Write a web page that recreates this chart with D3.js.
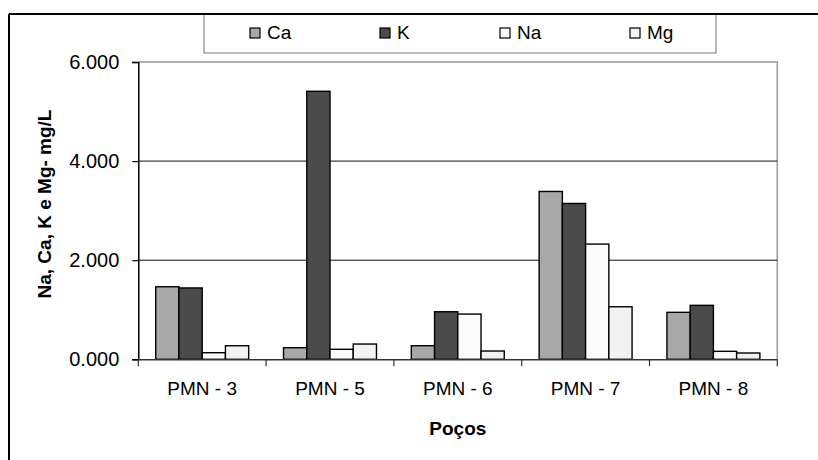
<!DOCTYPE html>
<html>
<head>
<meta charset="utf-8">
<script src="https://cdn.jsdelivr.net/npm/d3@7"></script>
<style>
  body { margin: 0; background: #fff; }
  text { font-family: "Liberation Sans", Arial, sans-serif; }
</style>
</head>
<body>
<div id="chart"></div>
<script>
// Data
var wells = ["PMN - 3", "PMN - 5", "PMN - 6", "PMN - 7", "PMN - 8"];
var seriesNames = ["Ca", "K", "Na", "Mg"];
var ca = [1464, 234, 274, 3387, 948];
var k  = [1440, 5409, 960, 3145, 1089];
var na = [133, 202, 913, 2325, 161];
var mg = [274, 308, 167, 1060, 127];
var yTicks = [0, 2000, 4000, 6000];

var colors = { Ca: "#a8a8a8", K: "#4b4b4b", Na: "#fbfbfb", Mg: "#f2f2f2" };
var values = { Ca: ca, K: k, Na: na, Mg: mg };

var svgWidth = 818, svgHeight = 460;
var plot = { left: 138.3, right: 777.3, top: 62, bottom: 359.3 };

var svg = d3.select("#chart").append("svg")
  .attr("width", svgWidth)
  .attr("height", svgHeight);

// outer frame lines
svg.append("line").attr("x1", 9).attr("x2", 9).attr("y1", 14).attr("y2", 460)
  .attr("stroke", "#000").attr("stroke-width", 2);

// Scales
var x0 = d3.scaleBand().domain(wells).range([plot.left, plot.right]).padding(0);
var x1 = d3.scaleBand().domain(seriesNames)
  .range([0, x0.bandwidth()]).paddingInner(0).paddingOuter(0.75);
var y = d3.scaleLinear().domain([0, 6000]).range([plot.bottom, plot.top]);

var fmt = function(d) { return d3.format(".3f")(d / 1000); };

// plot border (top + right) in gray
svg.append("path")
  .attr("d", `M${plot.left},${plot.top}H${plot.right}V${plot.bottom}`)
  .attr("fill", "none").attr("stroke", "#999").attr("stroke-width", 1.5);

// gridlines
svg.append("g").selectAll("line")
  .data(yTicks.filter(d => d > 0 && d < 6000))
  .enter().append("line")
  .attr("x1", plot.left).attr("x2", plot.right)
  .attr("y1", d => y(d)).attr("y2", d => y(d))
  .attr("stroke", "#111").attr("stroke-width", 1);

// bars
var groups = svg.append("g").selectAll("g")
  .data(wells)
  .enter().append("g")
  .attr("transform", d => `translate(${x0(d)},0)`);

groups.selectAll("rect")
  .data((w, i) => seriesNames.map(s => ({ s: s, v: values[s][i] })))
  .enter().append("rect")
  .attr("x", d => x1(d.s))
  .attr("width", x1.bandwidth())
  .attr("y", d => y(d.v))
  .attr("height", d => plot.bottom - y(d.v))
  .attr("fill", d => colors[d.s])
  .attr("stroke", "#000")
  .attr("stroke-width", 1.4);

// y axis
var yAxis = svg.append("g")
  .attr("transform", `translate(${plot.left},0)`)
  .call(d3.axisLeft(y).tickValues(yTicks).tickFormat(fmt).tickSize(6).tickPadding(13));
yAxis.select(".domain").attr("stroke", "#000").attr("stroke-width", 1.5);
yAxis.selectAll(".tick line").attr("stroke", "#000").attr("stroke-width", 1.2);
yAxis.selectAll("text").attr("font-size", "20px").attr("fill", "#000")
  .attr("font-family", "Liberation Sans, Arial, sans-serif");

// x axis
var xAxis = svg.append("g")
  .attr("transform", `translate(0,${plot.bottom})`)
  .call(d3.axisBottom(x0).tickSize(0).tickPadding(22));
xAxis.select(".domain").attr("stroke", "#333").attr("stroke-width", 1.5);
xAxis.selectAll("text").attr("font-size", "19px").attr("fill", "#000")
  .attr("font-family", "Liberation Sans, Arial, sans-serif");

// x category separators
svg.append("g").selectAll("line")
  .data(wells.map(w => x0(w)).concat([plot.right]))
  .enter().append("line")
  .attr("x1", d => d).attr("x2", d => d)
  .attr("y1", plot.bottom).attr("y2", plot.bottom + 7)
  .attr("stroke", "#333").attr("stroke-width", 1.2);

// axis titles
svg.append("text")
  .attr("x", (plot.left + plot.right) / 2)
  .attr("y", 435)
  .attr("text-anchor", "middle")
  .attr("font-size", "19px").attr("font-weight", "bold")
  .text("Poços");

svg.append("text")
  .attr("transform", "translate(51,204) rotate(-90)")
  .attr("text-anchor", "middle")
  .attr("font-size", "19px").attr("font-weight", "bold")
  .text("Na, Ca, K e Mg- mg/L");

// legend
svg.append("rect")
  .attr("x", 204).attr("y", 14).attr("width", 512).attr("height", 39)
  .attr("fill", "#fff").attr("stroke", "#777").attr("stroke-width", 1);
svg.append("line").attr("x1", 9).attr("x2", 818).attr("y1", 14).attr("y2", 14)
  .attr("stroke", "#000").attr("stroke-width", 2);

var legendX = [250, 380, 500, 630];
var legend = svg.append("g").selectAll("g")
  .data(seriesNames)
  .enter().append("g")
  .attr("transform", (d, i) => `translate(${legendX[i]},28)`);
legend.append("rect")
  .attr("width", 10).attr("height", 10)
  .attr("fill", d => colors[d])
  .attr("stroke", "#000").attr("stroke-width", 1.2);
legend.append("text")
  .attr("x", 17).attr("y", 11)
  .attr("font-size", "19px")
  .text(d => d);
</script>
</body>
</html>
